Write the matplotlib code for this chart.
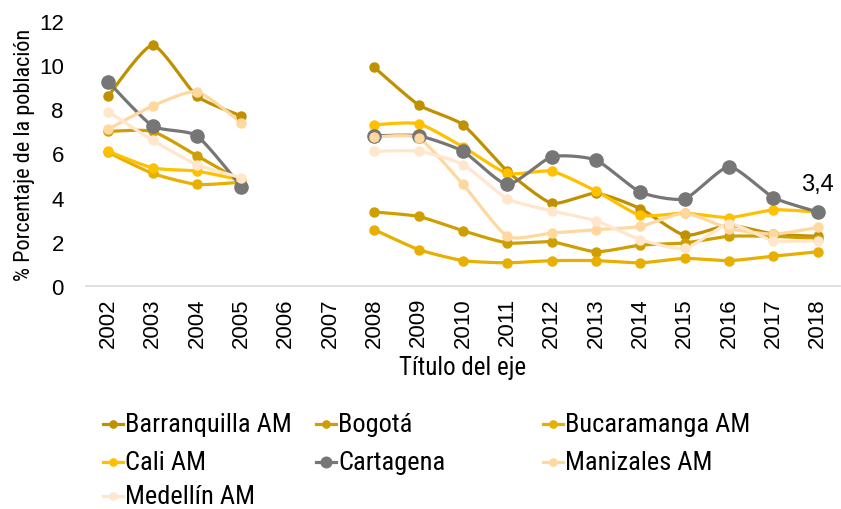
import numpy as np
import matplotlib
matplotlib.use("Agg")
import matplotlib.pyplot as plt
from matplotlib.lines import Line2D
from matplotlib import font_manager

# Years on the category axis
years = ["2002", "2003", "2004", "2005", "2006", "2007", "2008", "2009", "2010",
         "2011", "2012", "2013", "2014", "2015", "2016", "2017", "2018"]

nan = np.nan
barranquilla = [8.6, 10.9, 8.6, 7.7, nan, nan, 9.9, 8.2, 7.3, 5.2, 3.75, 4.2, 3.5, 2.3, 2.75, 2.35, 2.25]
bogota = [7.0, 7.0, 5.9, 4.75, nan, nan, 3.35, 3.15, 2.5, 1.95, 2.0, 1.55, 1.85, 1.95, 2.25, 2.25, 2.15]
bucaramanga = [6.05, 5.1, 4.6, 4.7, nan, nan, 2.55, 1.65, 1.15, 1.05, 1.15, 1.15, 1.05, 1.25, 1.15, 1.35, 1.55]
cali = [6.1, 5.35, 5.2, 4.8, nan, nan, 7.3, 7.35, 6.3, 5.1, 5.2, 4.3, 3.2, 3.3, 3.1, 3.45, 3.35]
cartagena = [9.25, 7.25, 6.8, 4.5, nan, nan, 6.8, 6.8, 6.1, 4.6, 5.85, 5.7, 4.25, 3.95, 5.4, 4.0, 3.35]
manizales = [7.1, 8.15, 8.8, 7.4, nan, nan, 6.75, 6.7, 4.6, 2.25, 2.4, 2.55, 2.7, 3.3, 2.6, 2.35, 2.65]
medellin = [7.9, 6.6, 5.5, 4.9, nan, nan, 6.1, 6.1, 5.5, 3.95, 3.4, 2.95, 2.1, 1.7, 2.8, 2.05, 2.05]

names = ["Barranquilla AM", "Bogotá", "Bucaramanga AM", "Cali AM",
         "Cartagena", "Manizales AM", "Medellín AM"]
series = [barranquilla, bogota, bucaramanga, cali, cartagena, manizales, medellin]
colors = ["#BF9000", "#CF9E00", "#E8AE00", "#FFC000", "#767676", "#FFD8A0", "#FFE6CC"]

installed = {f.name for f in font_manager.fontManager.ttflist}
narrow = [f for f in ["Liberation Sans Narrow", "DejaVu Sans Condensed", "Roboto Condensed", "Roboto"]
          if f in installed][:1] + ["DejaVu Sans"]
plain = ["Liberation Sans", "DejaVu Sans"]


def smooth(x, y, n=16):
    # Catmull-Rom style curve through the points, like Excel's smoothed lines
    x = np.asarray(x, float)
    y = np.asarray(y, float)
    px, py = [], []
    for i in range(len(x) - 1):
        x0, x3 = (x[i - 1] if i > 0 else x[i]), (x[i + 2] if i + 2 < len(x) else x[i + 1])
        y0, y3 = (y[i - 1] if i > 0 else y[i]), (y[i + 2] if i + 2 < len(y) else y[i + 1])
        t = np.linspace(0, 1, n)
        for a0, a1, a2, a3, out in ((x0, x[i], x[i + 1], x3, px), (y0, y[i], y[i + 1], y3, py)):
            m1 = (a2 - a0) / 2 * 0.6
            m2 = (a3 - a1) / 2 * 0.6
            h00 = 2 * t**3 - 3 * t**2 + 1
            h10 = t**3 - 2 * t**2 + t
            h01 = -2 * t**3 + 3 * t**2
            h11 = t**3 - t**2
            out.extend(h00 * a1 + h10 * m1 + h01 * a2 + h11 * m2)
    return px, py


fig = plt.figure(figsize=(8.41, 5.10), dpi=100)
ax = fig.add_axes([86 / 841, 1 - 287 / 510, 754 / 841, 265 / 510])

xs = np.arange(len(years))
sizes = []
for name, vals, c in zip(names, series, colors):
    vals = np.asarray(vals, float)
    ms = 9.5 if name == "Cartagena" else 6.5
    sizes.append(ms)
    # draw each continuous run separately
    ok = ~np.isnan(vals)
    runs, cur = [], []
    for i in range(len(vals)):
        if ok[i]:
            cur.append(i)
        elif cur:
            runs.append(cur)
            cur = []
    if cur:
        runs.append(cur)
    for r in runs:
        sx, sy = smooth(xs[r], vals[r])
        ax.plot(sx, sy, color=c, lw=2.3, solid_capstyle="round", zorder=2)
    ax.plot(xs, vals, ls="none", marker="o", ms=ms, color=c, zorder=3)

ax.annotate("3,4", (xs[-1], cartagena[-1]), xytext=(0, 12), textcoords="offset points",
            ha="center", va="bottom", fontsize=17, family=plain)

ax.set_xlim(-0.5, len(years) - 0.5)
ax.set_ylim(0, 12)
ax.set_yticks(range(0, 13, 2))
ax.set_xticks(xs)
ax.set_xticklabels(years, rotation=90, family=plain, fontsize=16)
ax.tick_params(axis="y", labelsize=16, length=0, pad=16)
ax.tick_params(axis="x", length=0, pad=8)
for lbl in ax.get_yticklabels():
    lbl.set_family(plain)
for s in ["top", "right", "left"]:
    ax.spines[s].set_visible(False)
ax.spines["bottom"].set_color("#D9D9D9")
ax.spines["bottom"].set_linewidth(1.2)

ax.set_xlabel("Título del eje", family=narrow, fontsize=18, labelpad=6)
ax.set_ylabel("% Porcentaje de la población", family=narrow, fontsize=16, labelpad=3)

# Legend laid out like Excel's row-wise legend: 3 columns
col_x = [103, 316, 543]
row_y = [425, 463, 497]
for k, (name, c, ms) in enumerate(zip(names, colors, sizes)):
    lx = col_x[k % 3] / 841
    ly = 1 - row_y[k // 3] / 510
    fig.add_artist(Line2D([lx, lx + 20 / 841], [ly, ly], color=c, lw=2.3,
                          transform=fig.transFigure))
    fig.add_artist(Line2D([lx + 10 / 841], [ly], color=c, marker="o", ms=ms * 0.8,
                          transform=fig.transFigure))
    fig.text(lx + 22 / 841, ly, name, va="center", ha="left", family=narrow, fontsize=19)

fig.savefig("out.png", dpi=100)
